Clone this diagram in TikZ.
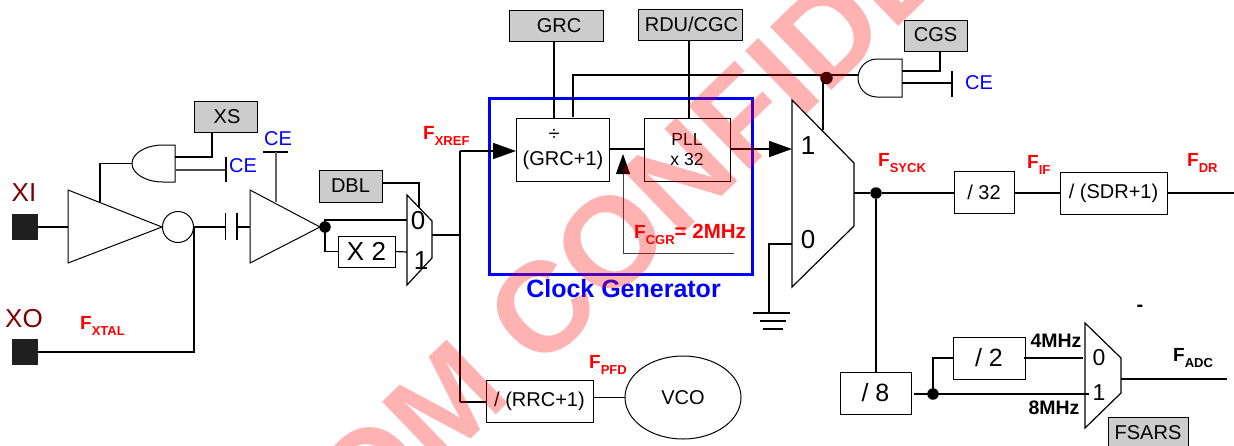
\documentclass[tikz,border=0pt]{standalone}
\usepackage{fontspec}
\setmainfont{Liberation Sans}
\usepackage{xcolor}
\usetikzlibrary{arrows.meta,shapes.geometric}

\definecolor{regfill}{HTML}{CCCCCC}
\definecolor{padtext}{HTML}{800000}
\newcommand{\fsize}[1]{\fontsize{#1}{#1}\selectfont}
\newcommand{\freq}[1]{\bfseries\fsize{19}F\raisebox{-6.5pt}{\fsize{13}#1}}

\tikzset{
	wire/.style={line width=1.2pt},
	bus/.style={line width=2pt},
	gate/.style={line width=1pt},
	regbox/.style={draw,fill=regfill,line width=1pt,inner sep=0pt,outer sep=0pt,font=\fsize{20}},
	divbox/.style={draw,fill=white,line width=1pt,inner sep=0pt,outer sep=0pt,font=\fsize{20}},
	pad/.style={fill=black!88,minimum size=26pt,inner sep=0pt,outer sep=0pt},
	padlab/.style={text=padtext,font=\fsize{26}},
	muxlab/.style={font=\fsize{26}},
	celab/.style={text=blue,font=\fsize{20}},
	flab/.style={text=red,anchor=base west,inner sep=0pt},
	jdot/.style={circle,fill=black,minimum size=11.5pt,inner sep=0pt,outer sep=0pt},
	bigarrow/.style={-{Triangle[length=23pt,width=16pt]}},
	wmark/.style={text=red,opacity=.3,font=\bfseries\fsize{128},inner sep=0pt}
}

\begin{document}
\begin{tikzpicture}[x=1pt,y=-1pt]
	\useasboundingbox (0,0) rectangle (1234,445);

	% crystal input
	\node[pad] (xi) at (25,227) {};
	\node[pad] (xo) at (25,352) {};
	\node[padlab] (xilab) at (24,193) {XI};
	\node[padlab] (xolab) at (24,319) {XO};
	\node[flab] (fxtal) at (80,329) {\freq{XTAL}};

	\coordinate (buf1a) at (68,190);
	\coordinate (buf1b) at (68,263);
	\coordinate (buf1in) at (68,227);
	\coordinate (buf1c) at (162,227);
	\draw[gate] (buf1a) -- (buf1b) -- (buf1c) -- cycle;
	\node[draw,circle,line width=1pt,minimum size=31pt,inner sep=0pt,outer sep=0pt] (inv) at (178,227) {};
	\draw[wire] (xi.east) -- (buf1in);

	% enable of the crystal
	\coordinate (andxo) at (132,163.5);
	\coordinate (andxa) at (175,157);
	\coordinate (andxb) at (175,170);
	\draw[gate] (175,145) -- (163,145) arc[start angle=90,end angle=270,x radius=31pt,y radius=18.5pt] -- (175,182) -- cycle;
	\node[regbox,minimum width=63pt,minimum height=31pt] (xs) at (225.5,116.5) {\hspace*{3pt}XS};
	\coordinate (xspin) at (212,132);
	\coordinate (cexa) at (226,157);
	\coordinate (cexb) at (226,182);
	\coordinate (cexin) at (226,170);
	\coordinate (buf1top) at (100,202);
	\node[celab] (cex) at (243,166) {CE};
	\draw[wire] (andxa) -| (xspin);
	\draw[wire,black!70] (andxb) -- (cexin);
	\draw[wire] (cexa) -- (cexb);
	\draw[wire] (andxo) -| (buf1top);

	% coupling capacitor and second buffer
	\coordinate (inva) at (194,227);
	\coordinate (cap1) at (225.5,227);
	\coordinate (cap2) at (237,227);
	\draw[wire] (cap1 |- 0,213) -- (cap1 |- 0,240);
	\draw[wire] (cap2 |- 0,213) -- (cap2 |- 0,240);
	\draw[wire] (inva) -- (cap1);
	\coordinate (buf2a) at (250,190);
	\coordinate (buf2b) at (250,263);
	\coordinate (buf2in) at (250,227);
	\coordinate (buf2c) at (320,227);
	\draw[gate] (buf2a) -- (buf2b) -- (buf2c) -- cycle;
	\draw[wire] (cap2) -- (buf2in);
	\draw[wire] (inva) |- (xo.east);
	\node[celab] (ceb) at (278,139) {CE};
	\coordinate (cebar) at (276,152);
	\coordinate (buf2top) at (276,202);
	\draw[wire] (263,152) -- (288,152);
	\draw[wire,black!60] (cebar) -- (buf2top);
	\node[jdot] (dbldot) at (325,227) {};

	% doubler
	\node[regbox,minimum width=63pt,minimum height=32pt] (dbl) at (350.5,186) {DBL};
	\node[divbox,minimum width=57pt,minimum height=31pt,font=\fsize{26}] (xtwo) at (366.5,251.5) {X 2};
	\coordinate (muxaa) at (407,195);
	\coordinate (muxab) at (432,221);
	\coordinate (muxac) at (432,258);
	\coordinate (muxad) at (407,285);
	\draw[wire] (muxaa) -- (muxab) -- (muxac) -- (muxad) -- cycle;
	\node[muxlab] (muxa0) at (418,221) {0};
	\node[muxlab] (muxa1) at (421,261) {1};
	\coordinate (muxain) at (407,220);
	\coordinate (muxaxin) at (407,252);
	\coordinate (muxaout) at (432,235);
	\coordinate (muxasel) at (419,207);
	\draw[wire] (dbl.east |- 0,183) -| (muxasel);
	\draw[bus] (dbldot.center) |- (muxain);
	\draw[wire] (dbldot.center) |- (xtwo.west);
	\draw[wire] (xtwo.east) -- (muxaxin);
	\node[flab] (fxref) at (423,139) {\freq{XREF}};

	% clock generator
	\node[draw=blue,line width=3pt,minimum width=263pt,minimum height=176pt,inner sep=0pt,outer sep=0pt] (clkgen) at (620.5,186) {};
	\node[text=blue,font=\bfseries\fsize{25}] (clklab) at (623.5,289) {Clock Generator};
	\node[regbox,minimum width=94pt,minimum height=31pt] (grc) at (556,25.5) {\hspace*{6pt}GRC};
	\node[regbox,minimum width=104pt,minimum height=31pt] (rdu) at (690,24.5) {\hspace*{3pt}RDU/CGC};
	\node[divbox,minimum width=93pt,minimum height=63pt] (grcdiv) at (562.5,149.5) {};
	\node[font=\fsize{20}] (grcsign) at (554,135) {÷};
	\node[font=\fsize{20}] (grclab) at (563,160) {(GRC+1)};
	\node[divbox,minimum width=86pt,minimum height=63pt,align=center,font=\fsize{17.5}] (pll) at (687,149.5) {PLL\\[2pt]x 32};
	\coordinate (grcin) at (554,118);
	\coordinate (rduin) at (689,118);
	\coordinate (cgsin) at (573,117);
	\draw[wire,line width=1.6pt] (grcin |- grc.south) -- (grcin);
	\draw[wire,line width=1.6pt] (rduin |- rdu.south) -- (rduin);
	\draw[wire] (grcdiv.east |- 0,149) -- (pll.west |- 0,149);
	\coordinate (fbend) at (734,253);
	\coordinate (fbup) at (623,253);
	\coordinate (fbtip) at (623,154);
	\draw[line width=.9pt,black!75,-{Triangle[length=20pt,width=14pt,black]}] (fbend) -- (fbup) -- (fbtip);
	\node[flab,font=\bfseries\fsize{20.5}] (fcgr) at (634,238) {\freq{CGR}\fsize{20.5}= 2MHz};

	% reference bus
	\coordinate (busup) at (460,151);
	\coordinate (busmid) at (460,235);
	\coordinate (busdn) at (460,402);
	\draw[wire] (muxaout) -- (busmid);
	\draw[wire,line width=1.6pt] (busup) -- (busdn);
	\draw[wire,line width=1.6pt,bigarrow] (busup) -- (grcdiv.west |- busup);
	\node[divbox,minimum width=107pt,minimum height=42pt] (rrc) at (539.5,401) {/ (RRC+1)};
	\node[draw,ellipse,line width=1pt,minimum width=116pt,minimum height=83pt,inner sep=0pt,outer sep=0pt,font=\fsize{20}] (vco) at (683,397.5) {VCO};
	\draw[wire] (busdn) -- (rrc.west |- busdn);
	\draw[wire] (rrc.east |- vco.west) -- (vco.west);
	\node[flab] (fpfd) at (589,368) {\freq{PFD}};

	% clock select
	\coordinate (muxba) at (792,100);
	\coordinate (muxbb) at (854,163);
	\coordinate (muxbc) at (854,226);
	\coordinate (muxbd) at (792,287);
	\draw[wire] (muxba) -- (muxbb) -- (muxbc) -- (muxbd) -- cycle;
	\node[muxlab] (muxb1) at (808,146) {1};
	\node[muxlab] (muxb0) at (808,240) {0};
	\draw[wire,line width=1.6pt,bigarrow] (pll.east |- 0,149) -- (muxba |- 0,149);
	\coordinate (muxbin) at (792,244);
	\coordinate (gnd) at (769,312);
	\draw[wire,line width=1.6pt] (muxbin) -| (gnd);
	\draw[bus] (753,313) -- (790,313);
	\draw[bus] (760,321) -- (786,321);
	\draw[bus] (763,329) -- (783,329);

	% enable of the clock
	\coordinate (andco) at (858,75);
	\draw[gate] (902,59) -- (877,59) arc[start angle=90,end angle=270,x radius=19pt,y radius=19pt] -- (902,97) -- cycle;
	\node[regbox,minimum width=63pt,minimum height=31pt] (cgs) at (935.5,35.5) {\raisebox{2pt}{CGS}};
	\coordinate (andca) at (902,71);
	\coordinate (andcb) at (902,83);
	\coordinate (cgspin) at (940,51);
	\coordinate (cecin) at (952,83);
	\node[celab] (cec) at (979,83) {CE};
	\draw[wire] (andca) -| (cgspin);
	\draw[wire] (andcb) -- (cecin);
	\draw[wire] (952,71) -- (952,97);
	\node[jdot,minimum size=12.5pt] (topdot) at (826.5,78) {};
	\coordinate (muxbtop) at (823,130);
	\coordinate (topjoin) at (823,78);
	\draw[wire] (cgsin) |- (andco);
	\draw[wire,line width=1.6pt] (muxbtop) -- (topjoin);

	% system clock
	\coordinate (muxbout) at (854,193);
	\node[jdot] (syckdot) at (876,193) {};
	\node[divbox,minimum width=60pt,minimum height=42pt] (divif) at (984,192) {/ 32};
	\node[divbox,minimum width=107pt,minimum height=42pt] (sdr) at (1113.5,193) {/ (SDR+1)};
	\coordinate (drout) at (1234,193);
	\draw[wire] (muxbout) -- (syckdot) -- (divif.west |- syckdot);
	\draw[wire] (divif.east |- sdr.west) -- (sdr.west);
	\draw[wire] (sdr.east) -- (drout);
	\node[flab] (fsyck) at (878,166) {\freq{SYCK}};
	\node[flab] (fif) at (1027,168) {\freq{IF}};
	\node[flab] (fdr) at (1187,166) {\freq{DR}};

	% adc clock
	\node[divbox,minimum width=71pt,minimum height=42pt,font=\fsize{25}] (diveight) at (875.5,393) {/ 8};
	\node[divbox,minimum width=72pt,minimum height=42pt,font=\fsize{25}] (divtwo) at (989,358) {/ 2};
	\draw[bus] (syckdot) -- (syckdot |- diveight.north);
	\coordinate (muxca) at (1085,323);
	\coordinate (muxcb) at (1121,358);
	\coordinate (muxcc) at (1121,393);
	\coordinate (muxcd) at (1085,428);
	\draw[wire] (muxca) -- (muxcb) -- (muxcc) -- (muxcd) -- cycle;
	\node[muxlab,font=\fsize{23}] (muxc0) at (1099,358) {0};
	\node[muxlab,font=\fsize{23}] (muxc1) at (1099,393) {1};
	\node[jdot] (adcdot) at (933,394) {};
	\coordinate (eightout) at (914,394);
	\coordinate (muxcin) at (1089,394);
	\coordinate (twoout) at (1024,358);
	\coordinate (muxctwo) at (1083,358);
	\coordinate (muxcout) at (1121,379);
	\coordinate (adcout) at (1227,379);
	\draw[bus] (eightout) -- (muxcin);
	\draw[bus] (adcdot.center) |- (divtwo.west);
	\draw[bus] (twoout) -- (muxctwo);
	\draw[bus] (muxcout) -- (adcout);
	\node[font=\bfseries\fsize{19.5}] (fourmhz) at (1056,341) {4MHz};
	\node[font=\bfseries\fsize{19.5}] (eightmhz) at (1054,408) {8MHz};
	\node[flab,text=black] (fadc) at (1173,361) {\freq{ADC}};
	\node[regbox,minimum width=80pt,minimum height=32pt] (fsars) at (1148,433) {FSARS};
	\node[font=\bfseries\fsize{20}] (dash) at (1140,308) {-};

	% watermark
	\begin{scope}
		\clip (0,0) rectangle (1234,445);
		\node[wmark,rotate=44] (wm) at (629,225) {OM CONFIDE};
	\end{scope}
\end{tikzpicture}
\end{document}
